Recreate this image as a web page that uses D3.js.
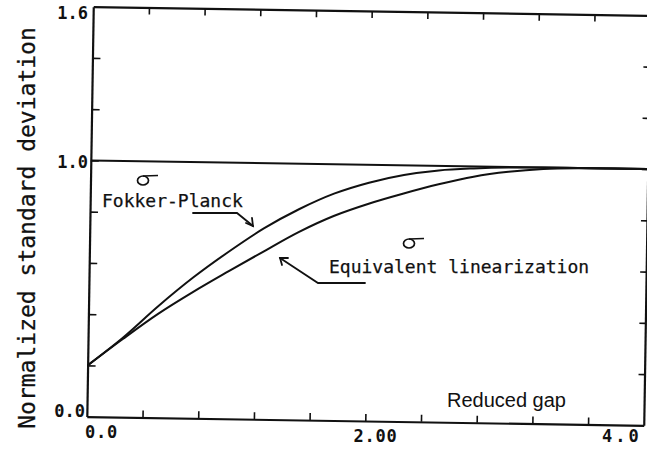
<!DOCTYPE html>
<html>
<head>
<meta charset="utf-8">
<script src="https://cdn.jsdelivr.net/npm/d3@7/dist/d3.min.js"></script>
<style>
  html,body{margin:0;padding:0;background:#fff;}
  svg{display:block;}
  .mono{font-family:"DejaVu Sans Mono",monospace;fill:#111;stroke:#111;stroke-width:0.25;}
  .tick-lbl{font-family:"DejaVu Sans Mono",monospace;font-weight:bold;font-size:17px;fill:#111;}
  .axis path,.axis line{stroke:#111;}
</style>
</head>
<body>
<svg id="chart" width="647" height="454"></svg>
<script>
'use strict';

/* ── data ───────────────────────────────────────────── */
const gap     = [0, 0.25, 0.5, 0.75, 1.0, 1.25, 1.5, 1.75, 2.0, 2.25, 2.5, 2.75, 3.0, 3.25, 3.5, 3.75, 4.0];
const sigmaFP = [0.20, 0.31, 0.435, 0.55, 0.652, 0.745, 0.822, 0.885, 0.93, 0.962, 0.982, 0.992, 0.998, 1.0, 1.0, 1.0, 1.0];
const sigmaEL = [0.20, 0.305, 0.405, 0.493, 0.575, 0.655, 0.733, 0.798, 0.848, 0.89, 0.928, 0.96, 0.981, 0.994, 0.999, 1.0, 1.0];

const refLevel = 1.0;

const xTicks = [0.4, 0.8, 1.2, 1.6, 2.0, 2.4, 2.8, 3.2, 3.6];
const yTicks = [0.2, 0.4, 0.6, 0.8, 1.0, 1.2, 1.4];

const xLabelVals = [0, 2, 4];
const xLabelText = ['0.0', '2.00', '4.0'];
const yLabelVals = [0, 1.0, 1.6];
const yLabelText = ['0.0', '1.0', '1.6'];

/* ── layout ─────────────────────────────────────────── */
const L = 90, T = 11, W = 557, H = 410;
const svg = d3.select('#chart');
svg.append('rect').attr('width', 647).attr('height', 454).attr('fill', '#fff');

const x = d3.scaleLinear().domain([0, 4]).range([L, L + W]);
const y = d3.scaleLinear().domain([0, 1.6]).range([T + H, T]);

// the scanned figure sits slightly skewed on the page
const plot = svg.append('g')
  .attr('transform', `rotate(0.9,${L + W / 2},${T + H / 2})`);

function axis(gen, tr, size, sw) {
  const g = plot.append('g').attr('class', 'axis').attr('transform', tr)
    .call(gen.tickSizeInner(size).tickSizeOuter(0).tickFormat(''));
  g.select('.domain').attr('stroke-width', 2.2);
  g.selectAll('.tick line').attr('stroke-width', sw);
  return g;
}
axis(d3.axisBottom(x).tickValues(xTicks), `translate(0,${T + H})`, -7, 1.6);
axis(d3.axisTop(x).tickValues(xTicks), `translate(0,${T})`, -7, 1.6);
axis(d3.axisLeft(y).tickValues(yTicks), `translate(${L},0)`, -8, 1.6);
axis(d3.axisRight(y).tickValues(yTicks), `translate(${L + W},0)`, -6, 1.6);

// reference level sigma = 1
plot.append('line')
  .attr('x1', x(0)).attr('x2', x(4))
  .attr('y1', y(refLevel)).attr('y2', y(refLevel))
  .attr('stroke', '#111').attr('stroke-width', 2);

const line = d3.line()
  .x(d => x(d[0])).y(d => y(d[1]))
  .curve(d3.curveCatmullRom.alpha(0.5));

[sigmaFP, sigmaEL].forEach(sv => {
  plot.append('path')
    .datum(gap.map((g, i) => [g, sv[i]]))
    .attr('d', line)
    .attr('fill', 'none')
    .attr('stroke', '#111')
    .attr('stroke-width', 2);
});

/* ── tick labels ────────────────────────────────────── */
const xAnchor = ['start', 'middle', 'start'];
const xShift = [-5, 7, -45];
const xBase = [438, 442, 442];
svg.selectAll('.xl').data(xLabelVals).enter().append('text')
  .attr('class', 'tick-lbl')
  .attr('x', (d, i) => x(d) + xShift[i])
  .attr('y', (d, i) => xBase[i])
  .attr('text-anchor', (d, i) => xAnchor[i])
  .attr('letter-spacing', (d, i) => i === 2 ? 3 : 0.8)
  .text((d, i) => xLabelText[i]);

const yShift = [-4, 3, 8];
svg.selectAll('.yl').data(yLabelVals).enter().append('text')
  .attr('class', 'tick-lbl')
  .attr('x', (d, i) => i === 0 ? 85 : 88)
  .attr('y', (d, i) => y(d) + yShift[i])
  .attr('text-anchor', 'end')
  .text((d, i) => yLabelText[i]);

/* ── titles ─────────────────────────────────────────── */
svg.append('text')
  .attr('class', 'mono')
  .attr('transform', 'translate(35,228) rotate(-90)')
  .attr('text-anchor', 'middle')
  .attr('font-size', 23)
  .text('Normalized standard deviation');

svg.append('text')
  .attr('x', 447).attr('y', 407)
  .attr('font-family', '"Liberation Sans", Arial, sans-serif')
  .attr('font-size', 20)
  .attr('fill', '#111')
  .text('Reduced gap');

/* ── annotations ────────────────────────────────────── */
svg.append('text').attr('class', 'mono')
  .attr('x', 102).attr('y', 207).attr('font-size', 18)
  .text('Fokker-Planck');
svg.append('text').attr('class', 'mono')
  .attr('x', 329).attr('y', 273).attr('font-size', 18)
  .text('Equivalent linearization');

// sigma glyphs: round body with a long flat tail on top
function sigma(px, py) {
  const g = svg.append('g').attr('fill', 'none').attr('stroke', '#111').attr('stroke-width', 1.7);
  g.append('ellipse').attr('cx', px + 6).attr('cy', py - 4.5).attr('rx', 5.5).attr('ry', 4.5);
  g.append('path').attr('d', `M${px + 6},${py - 9} L${px + 21},${py - 9.5}`);
}
sigma(137, 185);
sigma(403, 248);

const arrows = svg.append('g')
  .attr('fill', 'none').attr('stroke', '#111')
  .attr('stroke-width', 1.8).attr('stroke-linecap', 'round');

// Fokker-Planck pointer
arrows.append('path').attr('d', 'M193,213 L237,213 L253,226');
arrows.append('path').attr('d', 'M252,218 L253,226 L246,223');
// Equivalent linearization pointer
arrows.append('path').attr('d', 'M365,283 L318,283 L280,258');
arrows.append('path').attr('d', 'M288,258 L280,258 L282,265');
</script>
</body>
</html>
